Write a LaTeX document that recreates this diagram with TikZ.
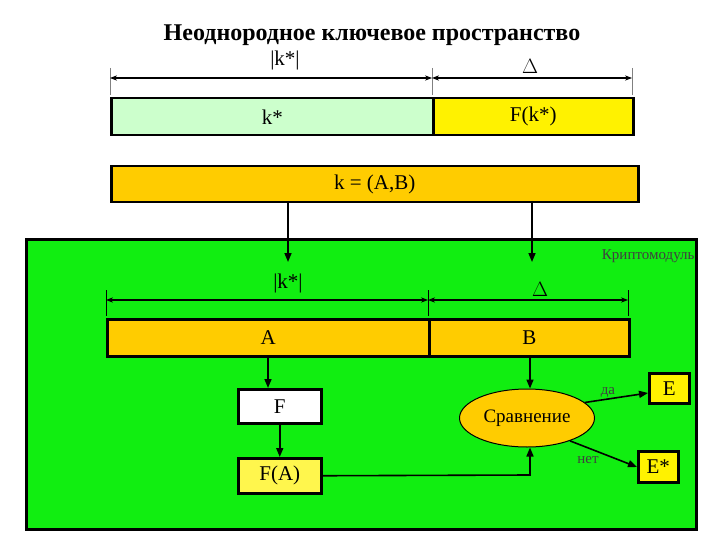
\documentclass[tikz,border=0pt]{standalone}
\usepackage{fontspec}
\setmainfont{Liberation Serif}
\usetikzlibrary{shapes.geometric,arrows.meta}
\definecolor{lgreen}{HTML}{CCFFCC}
\definecolor{gold}{HTML}{FFCC00}
\definecolor{brightg}{HTML}{11EE11}
\tikzset{
 bar/.style={draw=black,line width=2.5pt,anchor=north west,inner sep=0pt,font=\fontsize{21}{24}\selectfont},
 arr/.style={-{Triangle[length=9pt,width=7pt]},line width=1.6pt},
 dim/.style={{Stealth[length=7pt]}-{Stealth[length=7pt]},line width=1.2pt},
 tick/.style={line width=0.6pt,gray},
 lbl/.style={font=\fontsize{21}{24}\selectfont},
 small/.style={font=\fontsize{15}{18}\selectfont,text=black!75}
}
\begin{document}
\begin{tikzpicture}[x=1pt,y=-1pt]
\useasboundingbox (0,0) rectangle (720,540);
\node[font=\bfseries\fontsize{24}{28}\selectfont] (title) at (372,35) {Неоднородное ключевое пространство};
\node[lbl] (l1) at (285,60) {|k*|};
\node[lbl] (d1) at (530,66) {$\Delta$};
\coordinate (t1) at (110,78); \coordinate (t2) at (432,78); \coordinate (t3) at (632,78);
\draw[tick] (110,68)--(110,95); \draw[tick] (432,68)--(432,95); \draw[tick] (632,68)--(632,95);
\draw[dim] (t1)--(t2); \draw[dim] (t2)--(t3);
\node[bar,fill=lgreen,minimum width=322pt,minimum height=37pt] (ks) at (110,97) {k*};
\node[bar,fill=yellow,minimum width=200pt,minimum height=37pt] (fk) at (432,97) {F(k*)};
\node[bar,fill=gold,minimum width=527pt,minimum height=36pt] (kab) at (110,165) {k = (A,B)};
\node[draw=black,line width=3pt,fill=brightg,anchor=north west,minimum width=670pt,minimum height=290pt] (mod) at (25,238) {};
\coordinate (a1s) at (288,201); \coordinate (a2s) at (532,201);
\draw[arr] (a1s)--(288,262); \draw[arr] (a2s)--(532,262);
\node[small,anchor=east] (km) at (698,256) {Криптомодуль};
\node[lbl] (l2) at (288,283) {|k*|};
\node[lbl] (d2) at (540,289) {$\Delta$};
\draw[tick,black] (106,290)--(106,316); \draw[tick,black] (428,290)--(428,316); \draw[tick,black] (628,290)--(628,316);
\coordinate (u1) at (106,300); \coordinate (u2) at (428,300); \coordinate (u3) at (628,300);
\draw[dim] (u1)--(u2); \draw[dim] (u2)--(u3);
\node[bar,fill=gold,minimum width=322pt,minimum height=37pt] (A) at (106,318) {A};
\node[bar,fill=gold,minimum width=200pt,minimum height=37pt] (B) at (428,318) {B};
\node[bar,fill=white,minimum width=83pt,minimum height=34pt] (F) at (237,388) {F};
\node[bar,fill=yellow!70!white,minimum width=83pt,minimum height=35pt] (FA) at (237,457) {F(A)};
\node[ellipse,draw=black,line width=1pt,fill=gold,minimum width=135pt,minimum height=58pt,inner sep=0pt,font=\fontsize{19}{22}\selectfont] (cmp) at (527,418) {Сравнение};
\node[bar,fill=yellow,minimum width=40pt,minimum height=30pt] (E) at (648,372) {E};
\node[bar,fill=yellow,minimum width=40pt,minimum height=31pt] (Es) at (637,450) {E*};
\draw[arr] (268,355)--(F.north -| 268,0);
\draw[arr] (F.south)--(FA.north);
\draw[arr] (FA.east)--(530,475)--(cmp.south -| 530,0);
\draw[arr] (530,355)--(cmp.north -| 530,0);
\draw[arr] (cmp.15)--(E.west |- 0,393);
\draw[arr] (cmp.-28)--(Es.west |- 0,467);
\node[small] (da) at (608,392) {да};
\node[small] (net) at (588,460) {нет};
\end{tikzpicture}
\end{document}
